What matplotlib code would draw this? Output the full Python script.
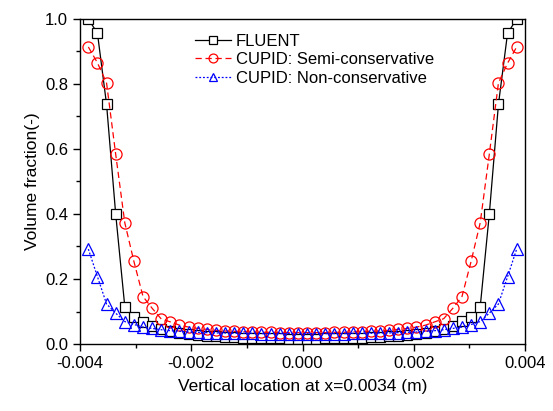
import numpy as np
import matplotlib
matplotlib.use("Agg")
import matplotlib.pyplot as plt
from matplotlib.ticker import MultipleLocator, FormatStrFormatter

plt.rcParams['font.family'] = ['Liberation Sans', 'DejaVu Sans']

x = np.linspace(-0.00385, 0.00385, 48)

fluent = [1.0, 0.956, 0.737, 0.40, 0.115, 0.082, 0.069, 0.056, 0.047, 0.040, 0.035, 0.031,
          0.028, 0.026, 0.024, 0.022, 0.021, 0.020, 0.019, 0.018, 0.017, 0.017, 0.016, 0.016,
          0.016, 0.016, 0.017, 0.017, 0.018, 0.019, 0.020, 0.021, 0.022, 0.024, 0.026, 0.028,
          0.031, 0.035, 0.040, 0.047, 0.056, 0.070, 0.083, 0.114, 0.40, 0.737, 0.956, 1.0]
semi = [0.914, 0.865, 0.803, 0.584, 0.373, 0.254, 0.146, 0.110, 0.077, 0.068, 0.058, 0.052,
        0.048, 0.045, 0.042, 0.040, 0.039, 0.038, 0.037, 0.036, 0.036, 0.035, 0.035, 0.035,
        0.035, 0.035, 0.035, 0.036, 0.036, 0.037, 0.038, 0.039, 0.040, 0.042, 0.045, 0.048,
        0.052, 0.058, 0.068, 0.078, 0.110, 0.146, 0.254, 0.373, 0.584, 0.803, 0.864, 0.914]
nonc = [0.292, 0.207, 0.123, 0.095, 0.069, 0.060, 0.052, 0.048, 0.044, 0.041, 0.039, 0.037,
        0.036, 0.035, 0.034, 0.034, 0.033, 0.033, 0.033, 0.032, 0.032, 0.032, 0.032, 0.032,
        0.032, 0.032, 0.032, 0.032, 0.032, 0.033, 0.033, 0.033, 0.034, 0.034, 0.035, 0.036,
        0.037, 0.039, 0.041, 0.044, 0.048, 0.052, 0.060, 0.069, 0.095, 0.123, 0.207, 0.292]

fig = plt.figure(figsize=(5.53, 4.11), dpi=100)
ax = fig.add_axes([80/553, 67/411, 445/553, 325/411])

ax.plot(x, fluent, color='black', lw=0.9, ls='-', marker='s', ms=7, mfc='white',
        mec='black', mew=0.9, label='FLUENT')
ax.plot(x, semi, color='red', lw=0.9, ls=(0, (5, 3)), marker='o', ms=8, mfc='none',
        mec='red', mew=0.9, label='CUPID: Semi-conservative')
ax.plot(x, nonc, color='blue', lw=0.9, ls=(0, (1.5, 1.5)), marker='^', ms=8, mfc='none',
        mec='blue', mew=0.9, label='CUPID: Non-conservative')

ax.set_xlim(-0.004, 0.004)
ax.set_ylim(0.0, 1.0)
ax.xaxis.set_major_locator(MultipleLocator(0.002))
ax.xaxis.set_minor_locator(MultipleLocator(0.001))
ax.yaxis.set_major_locator(MultipleLocator(0.2))
ax.yaxis.set_minor_locator(MultipleLocator(0.1))
ax.xaxis.set_major_formatter(FormatStrFormatter('%.3f'))
ax.yaxis.set_major_formatter(FormatStrFormatter('%.1f'))
ax.tick_params(which='major', direction='out', length=5, width=1, labelsize=12)
ax.tick_params(which='minor', direction='out', length=3, width=1)
for s in ax.spines.values():
    s.set_linewidth(1.0)

ax.set_xlabel('Vertical location at x=0.0034 (m)', fontsize=12.5, labelpad=6)
ax.set_ylabel('Volume fraction(-)', fontsize=12.5, labelpad=4)

ax.legend(loc='upper left', bbox_to_anchor=(0.258, 0.955), frameon=False, fontsize=12,
          handlelength=2.2, handletextpad=0.25, labelspacing=0.22, borderpad=0, borderaxespad=0,
          markerscale=0.8)

fig.savefig('out.png', dpi=100)
